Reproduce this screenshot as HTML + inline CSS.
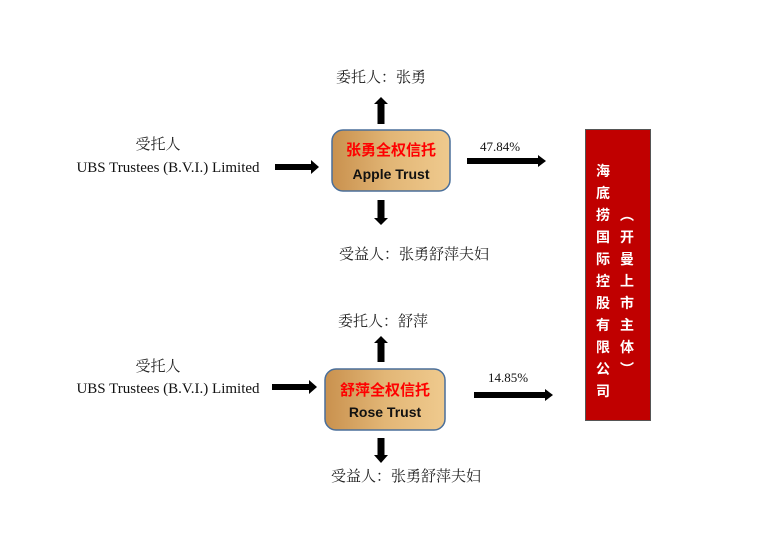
<!DOCTYPE html>
<html><head><meta charset="utf-8"><style>
html,body{margin:0;padding:0;background:#fff;}
svg{display:block;}
.cn{font-family:"Liberation Serif","Noto Serif CJK SC",serif;font-size:15px;fill:#222;}
.en{font-family:"Liberation Serif",serif;font-size:15px;fill:#111;}
.red{font-family:"Liberation Sans","Noto Sans CJK SC",sans-serif;font-size:15px;font-weight:bold;fill:#ff0000;}
.bx{font-family:"Liberation Sans",sans-serif;font-size:14px;font-weight:bold;fill:#111;}
.wt{font-family:"Liberation Sans","Noto Sans CJK SC",sans-serif;font-size:14px;font-weight:bold;fill:#fff;}
</style></head><body>
<svg width="758" height="534" viewBox="0 0 758 534" xmlns="http://www.w3.org/2000/svg">
<defs>
<linearGradient id="g" x1="0" x2="1" y1="0" y2="0">
<stop offset="0" stop-color="#c9914e"/><stop offset="0.5" stop-color="#e2b676"/><stop offset="1" stop-color="#efca8e"/>
</linearGradient>
</defs>
<!-- Row 1 -->
<text class="cn" x="381" y="82" text-anchor="middle">委托人：张勇</text>
<polygon points="377.5,124 377.5,104 374,104 381,97 388,104 384.5,104 384.5,124" fill="#000"/>
<text class="cn" x="158" y="149" text-anchor="middle">受托人</text>
<text class="en" x="168" y="172" text-anchor="middle">UBS Trustees (B.V.I.) Limited</text>
<polygon points="275,164 311,164 311,160 319,167 311,174 311,170 275,170" fill="#000"/>
<rect x="332" y="130" width="118" height="61" rx="11" fill="url(#g)" stroke="#4a6f9a" stroke-width="1.5"/>
<text class="red" x="391" y="155" text-anchor="middle">张勇全权信托</text>
<text class="bx" x="391" y="179" text-anchor="middle">Apple Trust</text>
<polygon points="377.5,200 377.5,218 374,218 381,225 388,218 384.5,218 384.5,200" fill="#000"/>
<text class="cn" x="339" y="259">受益人：张勇舒萍夫妇</text>
<text class="en" x="480" y="151" style="font-size:13px">47.84%</text>
<polygon points="467,158 538,158 538,155 546,161 538,167 538,164 467,164" fill="#000"/>
<!-- Row 2 -->
<text class="cn" x="338" y="326">委托人：舒萍</text>
<polygon points="377.5,362 377.5,343 374,343 381,336 388,343 384.5,343 384.5,362" fill="#000"/>
<text class="cn" x="158" y="371" text-anchor="middle">受托人</text>
<text class="en" x="168" y="393" text-anchor="middle">UBS Trustees (B.V.I.) Limited</text>
<polygon points="272,384 309,384 309,380 317,387 309,394 309,390 272,390" fill="#000"/>
<rect x="325" y="369" width="120" height="61" rx="11" fill="url(#g)" stroke="#4a6f9a" stroke-width="1.5"/>
<text class="red" x="385" y="395" text-anchor="middle">舒萍全权信托</text>
<text class="bx" x="385" y="417" text-anchor="middle">Rose Trust</text>
<polygon points="377.5,438 377.5,455 374,455 381,463 388,455 384.5,455 384.5,438" fill="#000"/>
<text class="cn" x="331" y="481">受益人：张勇舒萍夫妇</text>
<text class="en" x="488" y="382" style="font-size:13px">14.85%</text>
<polygon points="474,392 545,392 545,389 553,395 545,401 545,398 474,398" fill="#000"/>
<!-- Red box -->
<rect x="585.5" y="129.5" width="65" height="291" fill="#c00000" stroke="#555" stroke-width="1"/>
<g class="wt" text-anchor="middle">
<text x="603" y="176">海</text><text x="603" y="198">底</text><text x="603" y="220">捞</text>
<text x="603" y="242">国</text><text x="603" y="264">际</text><text x="603" y="286">控</text>
<text x="603" y="308">股</text><text x="603" y="330">有</text><text x="603" y="352">限</text>
<text x="603" y="374">公</text><text x="603" y="396">司</text>
<text x="627" y="220">︵</text><text x="627" y="242">开</text><text x="627" y="264">曼</text>
<text x="627" y="286">上</text><text x="627" y="308">市</text><text x="627" y="330">主</text>
<text x="627" y="352">体</text><text x="627" y="374">︶</text>
</g>
</svg>
</body></html>
